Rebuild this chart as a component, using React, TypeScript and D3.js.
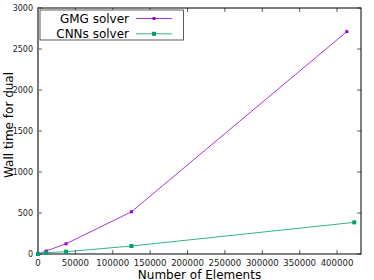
import React, { useEffect, useRef } from "react";
import * as d3 from "d3";

const elements = [0, 11000, 37500, 125000];
const gmgX = [...elements, 413000];
const gmgY = [0, 37, 125, 515, 2712];
const cnnX = [...elements, 423000];
const cnnY = [0, 16, 28, 97, 386];
const xTicks = [0, 50000, 100000, 150000, 200000, 250000, 300000, 350000, 400000];
const yTicks = [0, 500, 1000, 1500, 2000, 2500, 3000];

const series = [
  { name: "GMG solver", xs: gmgX, ys: gmgY, color: "#9400d3", size: 3 },
  { name: "CNNs solver", xs: cnnX, ys: cnnY, color: "#009e73", size: 4 },
];

export default function App() {
  const ref = useRef<SVGSVGElement>(null);

  useEffect(() => {
    const width = 374;
    const height = 280;
    const margin = { top: 8, right: 13, bottom: 26, left: 38 };
    const innerWidth = width - margin.left - margin.right;
    const innerHeight = height - margin.top - margin.bottom;

    const svg = d3.select(ref.current);
    svg.selectAll("*").remove();
    svg.attr("width", width).attr("height", height)
      .style("font-family", "DejaVu Sans, sans-serif");

    const g = svg.append("g").attr("transform", `translate(${margin.left},${margin.top})`);

    const x = d3.scaleLinear().domain([0, 432000]).range([0, innerWidth]);
    const y = d3.scaleLinear().domain([0, 3000]).range([innerHeight, 0]);

    // gnuplot style: ticks point inward and are mirrored on the opposite side
    const xg = g.append("g");
    xTicks.forEach(t => {
      xg.append("line").attr("x1", x(t)).attr("x2", x(t)).attr("y1", innerHeight).attr("y2", innerHeight - 4)
        .attr("stroke", "#333").attr("stroke-width", 0.8);
      xg.append("line").attr("x1", x(t)).attr("x2", x(t)).attr("y1", 0).attr("y2", 4)
        .attr("stroke", "#333").attr("stroke-width", 0.8);
      xg.append("text").attr("x", x(t)).attr("y", innerHeight + 11.5).attr("text-anchor", "middle")
        .style("font-size", "8.6px").attr("fill", "#222").text(t);
    });

    const yg = g.append("g");
    yTicks.forEach(t => {
      yg.append("line").attr("x1", 0).attr("x2", 4).attr("y1", y(t)).attr("y2", y(t))
        .attr("stroke", "#333").attr("stroke-width", 0.8);
      yg.append("line").attr("x1", innerWidth).attr("x2", innerWidth - 4).attr("y1", y(t)).attr("y2", y(t))
        .attr("stroke", "#333").attr("stroke-width", 0.8);
      yg.append("text").attr("x", -5).attr("y", y(t) + 3).attr("text-anchor", "end")
        .style("font-size", "8px").attr("fill", "#222").text(t);
    });

    g.append("rect").attr("width", innerWidth).attr("height", innerHeight)
      .attr("fill", "none").attr("stroke", "#000").attr("stroke-width", 1);
    g.append("line").attr("x1", 0).attr("x2", 0).attr("y1", 0).attr("y2", innerHeight)
      .attr("stroke", "#777").attr("stroke-width", 1.6);

    const line = d3.line<[number, number]>().x(d => x(d[0])).y(d => y(d[1]));

    series.forEach(s => {
      const pts: [number, number][] = s.xs.map((v, i) => [v, s.ys[i]]);
      g.append("path").attr("d", line(pts)).attr("fill", "none")
        .attr("stroke", s.color).attr("stroke-width", 0.8);
      g.selectAll(null).data(pts).join("rect")
        .attr("x", d => x(d[0]) - s.size / 2).attr("y", d => y(d[1]) - s.size / 2)
        .attr("width", s.size).attr("height", s.size).attr("fill", s.color);
    });

    // legend
    const lg = g.append("g");
    lg.append("rect").attr("x", 2).attr("y", 2).attr("width", 143.5).attr("height", 30)
      .attr("fill", "#fff").attr("stroke", "#333").attr("stroke-width", 0.8);
    series.forEach((s, i) => {
      const ly = 10.5 + i * 15.3;
      lg.append("text").attr("x", 91).attr("y", ly + 4.6).attr("text-anchor", "end")
        .style("font-size", "12px").attr("fill", "#000").text(s.name);
      lg.append("line").attr("x1", 98).attr("x2", 134).attr("y1", ly).attr("y2", ly)
        .attr("stroke", s.color).attr("stroke-width", 0.8);
      lg.append("rect").attr("x", 116 - s.size / 2).attr("y", ly - s.size / 2)
        .attr("width", s.size).attr("height", s.size).attr("fill", s.color);
    });

    svg.append("text").attr("x", margin.left + innerWidth / 2).attr("y", height - 1.5)
      .attr("text-anchor", "middle").style("font-size", "12px").text("Number of Elements");
    svg.append("text").attr("transform", `translate(13,125) rotate(-90)`)
      .attr("text-anchor", "middle").style("font-size", "12px").text("Wall time for dual");
  }, []);

  return <svg ref={ref} style={{ position: "absolute", left: 0, top: 0 }} />;
}
